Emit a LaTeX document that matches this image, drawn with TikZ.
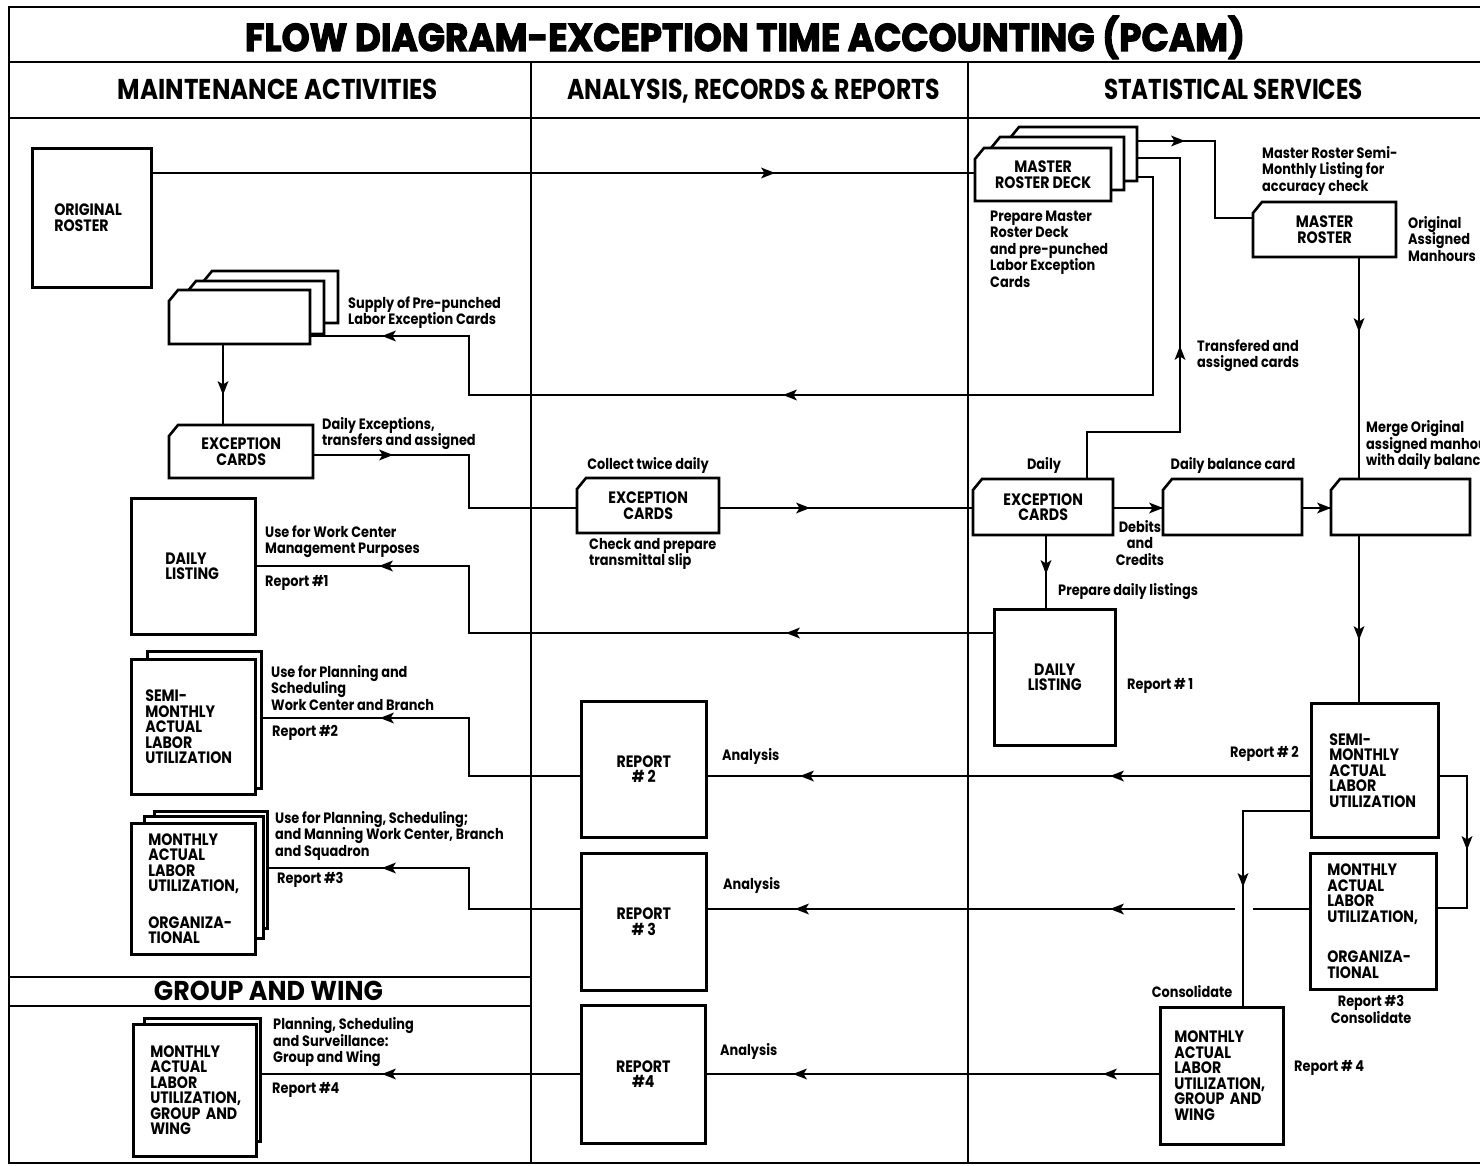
\documentclass[tikz,border=0pt]{standalone}
\usepackage{fontspec}
\setmainfont{Poppins}
\newfontfamily\fnode{Poppins}[FakeStretch=0.86]
\newfontfamily\ftitle{Poppins}[FakeBold=3]
\usepackage{graphicx}
\newcommand\fitto[3]{\resizebox{#1}{#2}{\smash{#3}\vphantom{H}}}
\newcommand\ahd[3]{\fill[shift={(#1,#2)},rotate=#3] (7,0) -- (-7,5.5) -- (-3.5,0) -- (-7,-5.5) -- cycle;}
\newcommand\cardbox[6]{%
  \filldraw[ln, fill=white] (#2,{#3+#5}) -- (#2,{#3+11}) -- ({#2+9},#3) -- ({#2+#4},#3) -- ({#2+#4},{#3+#5}) -- cycle;
  \node[inner sep=0pt, minimum width=#4pt, minimum height=#5pt, anchor=north west, ntxt, align=center] (#1) at (#2,#3) {#6};
}
\tikzset{
  frame/.style={line width=2pt},
  ln/.style={line width=2.6pt, line join=miter},
  bx/.style={draw, line width=2.6pt, fill=white, inner sep=0pt, anchor=north west},
  ntxt/.style={font=\fnode\bfseries\fontsize{16.5}{15.5}\selectfont},
  ltxt/.style={font=\fnode\bfseries\fontsize{15}{16.5}\selectfont, align=left, inner sep=0pt},
}
\begin{document}
\begin{tikzpicture}[x=1pt, y=-1pt]
\useasboundingbox (0,0) rectangle (1480,1166);
\clip (0,0) rectangle (1480,1166);
\fill[white] (0,0) rectangle (1480,1166);
% frame
\draw[frame] (1482,7) -- (9,7) -- (9,1163) -- (1482,1163);
\draw[frame] (9,62) -- (1482,62);
\draw[frame] (9,118) -- (1482,118);
\draw[frame] (531,62) -- (531,1163);
\draw[frame] (968,62) -- (968,1163);
\draw[frame] (9,977) -- (531,977);
\draw[frame] (9,1006) -- (531,1006);
% headings
\node[inner sep=0pt] (title) at (745,37.5) {\fitto{1000pt}{27pt}{\ftitle\bfseries FLOW DIAGRAM-EXCEPTION TIME ACCOUNTING (PCAM)}};
\node[inner sep=0pt] (hM) at (278,90) {\fitto{320pt}{20pt}{\bfseries MAINTENANCE ACTIVITIES}};
\node[inner sep=0pt] (hA) at (753.5,90) {\fitto{373pt}{20pt}{\bfseries ANALYSIS, RECORDS \& REPORTS}};
\node[inner sep=0pt] (hS) at (1233.5,90) {\fitto{259pt}{20pt}{\bfseries STATISTICAL SERVICES}};
\node[inner sep=0pt] (hG) at (268.5,991) {\fitto{229pt}{19pt}{\bfseries GROUP AND WING}};

% ---------- boxes ----------
\node[bx, ntxt, minimum width=119pt, minimum height=139pt, text width=75pt, inner xsep=22pt, align=left] (orig) at (31,147) {ORIGINAL\\ROSTER};
\cardbox{sup3}{203}{271}{135}{52}{}
\cardbox{sup2}{187}{281}{137}{53}{}
\cardbox{sup1}{169}{290}{141}{54}{}
\cardbox{excL}{169}{425}{144}{53}{EXCEPTION\\CARDS}
\node[bx, ntxt, minimum width=124pt, minimum height=136pt, text width=56pt, inner xsep=34pt, align=left] (dlL) at (130,497) {DAILY\\LISTING};
\node[bx, minimum width=114pt, minimum height=137pt] (semiL2) at (146,650) {};
\node[bx, ntxt, minimum width=124pt, minimum height=135pt, text width=96pt, inner xsep=14pt, align=left] (semiL) at (130,658) {SEMI-\\MONTHLY\\ACTUAL\\LABOR\\UTILIZATION};
\node[bx, minimum width=113pt, minimum height=117pt] (orgL3) at (153,810) {};
\node[bx, minimum width=119pt, minimum height=122pt] (orgL2) at (143,815) {};
\node[bx, ntxt, minimum width=124pt, minimum height=131pt, text width=90pt, inner xsep=17pt, align=left] (orgL) at (130,822) {MONTHLY\\ACTUAL\\LABOR\\UTILIZATION,\\[21pt]ORGANIZA-\\TIONAL};
\node[bx, minimum width=116pt, minimum height=123pt] (grpL2) at (143,1017) {};
\node[bx, ntxt, minimum width=123pt, minimum height=132pt, text width=89pt, inner xsep=17pt, align=left] (grpL) at (132,1023) {MONTHLY\\ACTUAL\\LABOR\\UTILIZATION,\\GROUP~AND\\WING};

\cardbox{excM}{577}{478}{142}{55}{EXCEPTION\\CARDS}
\node[bx, ntxt, minimum width=125pt, minimum height=136pt, align=center] (rep2) at (580,700) {REPORT\\\# 2};
\node[bx, ntxt, minimum width=125pt, minimum height=137pt, align=center] (rep3) at (580,852) {REPORT\\\# 3};
\node[bx, ntxt, minimum width=124pt, minimum height=138pt, align=center] (rep4) at (580,1004) {REPORT\\\#4};

\cardbox{deck3}{1010}{127}{127}{54}{}
\cardbox{deck2}{991}{137}{133}{53}{}
\cardbox{deck1}{975}{148}{136}{53}{MASTER\\ROSTER~DECK}
\cardbox{mroster}{1253}{202}{143}{55}{MASTER\\ROSTER}
\cardbox{excR}{973}{479}{140}{56}{EXCEPTION\\CARDS}
\cardbox{bal}{1163}{479}{139}{56}{}
\cardbox{merge}{1331}{479}{139}{56}{}
\node[bx, ntxt, minimum width=121pt, minimum height=136pt, align=center] (dlR) at (993,608) {DAILY\\LISTING};
\node[bx, ntxt, minimum width=127pt, minimum height=134pt, text width=91pt, inner xsep=18pt, align=left] (semiR) at (1310,702) {SEMI-\\MONTHLY\\ACTUAL\\LABOR\\UTILIZATION};
\node[bx, ntxt, minimum width=126pt, minimum height=136pt, text width=92pt, inner xsep=17pt, align=left] (orgR) at (1309,852) {MONTHLY\\ACTUAL\\LABOR\\UTILIZATION,\\[25pt]ORGANIZA-\\TIONAL};
\node[bx, ntxt, minimum width=123pt, minimum height=137pt, text width=95pt, inner xsep=14pt, align=left] (grpR) at (1159,1006) {MONTHLY\\ACTUAL\\LABOR\\UTILIZATION,\\GROUP~AND\\WING};

% ---------- connectors ----------
\coordinate (p1) at (0,173);
\draw[ln] (p1 -| orig.east) -- (p1 -| deck1.west);
\coordinate (p2a) at (1215,141); \coordinate (p2b) at (1215,218);
\draw[ln] (p2a -| deck3.east) -- (p2a) -- (p2b) -- (p2b -| mroster.west);
\coordinate (p3a) at (1087,432); \coordinate (p3b) at (1180,432); \coordinate (p3c) at (1180,158);
\draw[ln] (p3a |- excR.north) -- (p3a) -- (p3b) -- (p3c) -- (p3c -| deck3.east);
\coordinate (p4a) at (1153,177); \coordinate (p4b) at (1153,395); \coordinate (p4c) at (469,395); \coordinate (p4d) at (469,336);
\draw[ln] (p4a -| deck3.east) -- (p4a) -- (p4b) -- (p4c) -- (p4d) -- (p4d -| sup1.east);
\coordinate (p5) at (223,0);
\draw[ln] (p5 |- sup1.south) -- (p5 |- excL.north);
\coordinate (p6a) at (469,455); \coordinate (p6b) at (469,508);
\draw[ln] (p6a -| excL.east) -- (p6a) -- (p6b) -- (p6b -| excM.west);
\draw[ln] (p6b -| excM.east) -- (p6b -| excR.west);
\draw[ln] (p6b -| excR.east) -- (p6b -| bal.west);
\draw[ln] (p6b -| bal.east) -- (p6b -| merge.west);
\coordinate (p10) at (1359,0);
\draw[ln] (p10 |- mroster.south) -- (p10 |- merge.north);
\draw[ln] (p10 |- merge.south) -- (p10 |- semiR.north);
\coordinate (p12) at (1046,0);
\draw[ln] (p12 |- excR.south) -- (p12 |- dlR.north);
\coordinate (p13a) at (469,633); \coordinate (p13b) at (469,566);
\draw[ln] (p13a -| dlR.west) -- (p13a) -- (p13b) -- (p13b -| dlL.east);
\coordinate (p14) at (0,776);
\draw[ln] (p14 -| semiR.west) -- (p14 -| rep2.east);
\coordinate (p15a) at (469,776); \coordinate (p15b) at (469,718);
\draw[ln] (p15a -| rep2.west) -- (p15a) -- (p15b) -- (p15b -| semiL2.east);
\coordinate (p16a) at (1467,776); \coordinate (p16b) at (1467,908);
\draw[ln] (p16a -| semiR.east) -- (p16a) -- (p16b) -- (p16b -| orgR.east);
\coordinate (p17) at (0,909); \coordinate (g1) at (1253,909); \coordinate (g2) at (1235,909);
\draw[ln] (p17 -| orgR.west) -- (g1);
\draw[ln] (g2) -- (p17 -| rep3.east);
\coordinate (p18a) at (469,909); \coordinate (p18b) at (469,868);
\draw[ln] (p18a -| rep3.west) -- (p18a) -- (p18b) -- (p18b -| orgL3.east);
\coordinate (p19a) at (1243,811);
\draw[ln] (p19a -| semiR.west) -- (p19a) -- (p19a |- grpR.north);
\coordinate (p20) at (0,1074);
\draw[ln] (p20 -| grpR.west) -- (p20 -| rep4.east);
\draw[ln] (p20 -| rep4.west) -- (p20 -| grpL2.east);

% ---------- arrowheads ----------
\ahd{768}{173}{0}
\ahd{1178}{141}{0}
\ahd{1180}{353}{90}
\ahd{790}{395}{180} \ahd{389}{336}{180}
\ahd{223}{388}{-90}
\ahd{386}{455}{0}
\ahd{803}{508}{0}
\ahd{1156}{508}{0}
\ahd{1324}{508}{0}
\ahd{1359}{325}{-90}
\ahd{1359}{633}{-90}
\ahd{1046}{567}{-90}
\ahd{793}{633}{180} \ahd{386}{566}{180}
\ahd{1117}{776}{180} \ahd{807}{776}{180}
\ahd{387}{718}{180}
\ahd{1467}{843}{-90}
\ahd{1117}{909}{180} \ahd{802}{909}{180}
\ahd{389}{868}{180}
\ahd{1243}{880}{-90}
\ahd{1110}{1074}{180} \ahd{800}{1074}{180}
\ahd{389}{1074}{180}

% ---------- labels ----------
\node[ltxt, anchor=west] (l1) at (348,312.5) {Supply of Pre-punched\\Labor Exception Cards};
\node[ltxt, anchor=west] (l2) at (322,433.5) {Daily Exceptions,\\transfers and assigned};
\node[ltxt, anchor=west] (l3) at (265,541.5) {Use for Work Center\\Management Purposes};
\node[ltxt, anchor=west] (l4) at (265,583) {Report \#1};
\node[ltxt, anchor=west] (l5) at (271,687.7) {Use for Planning and\\Scheduling\\Work Center and Branch};
\node[ltxt, anchor=west] (l6) at (272,733) {Report \#2};
\node[ltxt, anchor=west] (l7) at (275,835.7) {Use for Planning, Scheduling;\\and Manning Work Center, Branch\\and Squadron};
\node[ltxt, anchor=west] (l8) at (277,880) {Report \#3};
\node[ltxt, anchor=west] (l9) at (273,1042.3) {Planning, Scheduling\\and Surveillance:\\Group and Wing};
\node[ltxt, anchor=west] (l10) at (272,1090) {Report \#4};
\node[ltxt, anchor=center] (l11) at (648,465) {Collect twice daily};
\node[ltxt, anchor=west] (l12) at (589,554) {Check and prepare\\transmittal slip};
\node[ltxt, anchor=west] (l13) at (722,756) {Analysis};
\node[ltxt, anchor=west] (l14) at (723,885) {Analysis};
\node[ltxt, anchor=west] (l15) at (720,1051) {Analysis};
\node[ltxt, anchor=center] (l16) at (1044,465) {Daily};
\node[ltxt, anchor=center] (l17) at (1233,465) {Daily balance card};
\node[ltxt, anchor=center, align=center] (l18) at (1140,543) {Debits\\and\\Credits};
\node[ltxt, anchor=west] (l19) at (1058,592) {Prepare daily listings};
\node[ltxt, anchor=west] (l20) at (1127,686) {Report \# 1};
\node[ltxt, anchor=west] (l21) at (1262,170.7) {Master Roster Semi-\\Monthly Listing for\\accuracy check};
\node[ltxt, anchor=west] (l22) at (1408,238.7) {Original\\Assigned\\Manhours};
\node[ltxt, anchor=west] (l23) at (990,248.8) {Prepare Master\\Roster Deck\\and pre-punched\\Labor Exception\\Cards};
\node[ltxt, anchor=west] (l24) at (1197,355.5) {Transfered and\\assigned cards};
\node[ltxt, anchor=west] (l25) at (1366,445) {Merge Original\\assigned manhours\\with daily balance};
\node[ltxt, anchor=east] (l26) at (1299,754) {Report \# 2};
\node[ltxt, anchor=center, align=center] (l27) at (1371,1009.5) {Report \#3\\Consolidate};
\node[ltxt, anchor=center] (l28) at (1192,992) {Consolidate};
\node[ltxt, anchor=west] (l29) at (1294,1068) {Report \# 4};
\end{tikzpicture}
\end{document}
